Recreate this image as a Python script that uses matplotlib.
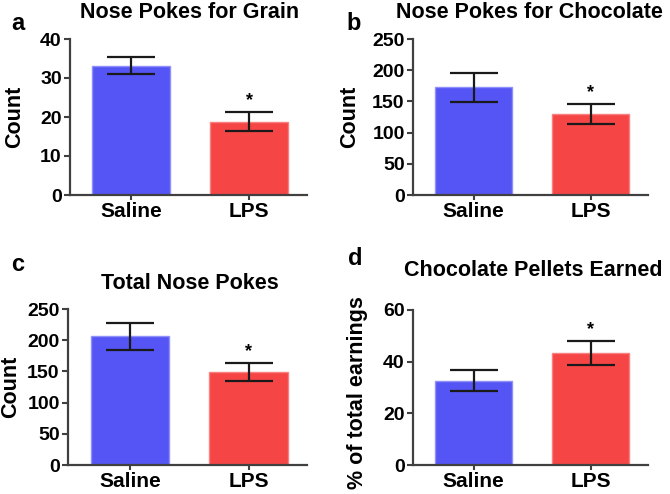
import matplotlib
matplotlib.use('Agg')
import matplotlib.pyplot as plt
import numpy as np

plt.rcParams['font.family'] = ['Liberation Sans', 'DejaVu Sans']
plt.rcParams['font.weight'] = 'bold'

W, H = 670, 494

groups = ['Saline', 'LPS']
colors = ['#5555F5', '#F54545']

grain_mean = [33.2, 18.8]
grain_sem = [2.2, 2.5]
choc_mean = [172.5, 130.5]
choc_sem = [23, 16]
total_mean = [206, 149]
total_sem = [22, 15]
pellets_mean = [32.7, 43.4]
pellets_sem = [3.9, 4.7]

panels = [
    # letter, title, ylabel, means, sems, yticks, box(px: left, top, right, bottom),
    # letter pos, title pos, ylabel right edge px
    ('a', 'Nose Pokes for Grain', 'Count', grain_mean, grain_sem, [0, 10, 20, 30, 40],
     (70, 39, 307, 195), (18, 23), (190, 12), 25),
    ('b', 'Nose Pokes for Chocolate', 'Count', choc_mean, choc_sem, [0, 50, 100, 150, 200, 250],
     (413, 39, 648, 195), (354, 23), (529, 12), 360),
    ('c', 'Total Nose Pokes', 'Count', total_mean, total_sem, [0, 50, 100, 150, 200, 250],
     (68, 309, 307, 465), (18, 264), (190, 283), 21),
    ('d', 'Chocolate Pellets Earned', '% of total earnings', pellets_mean, pellets_sem, [0, 20, 40, 60],
     (413, 310, 648, 465), (355, 258), (533, 270), 368),
]

fig = plt.figure(figsize=(W / 100, H / 100), dpi=100)

for letter, title, ylab, means, sems, yticks, box, lpos, tpos, ylx in panels:
    l, t, r, b = box
    ax = fig.add_axes([l / W, 1 - b / H, (r - l) / W, (b - t) / H])
    x = np.arange(len(groups))
    ax.bar(x, means, 0.66, color=colors, edgecolor=['#9090FA', '#F88080'], linewidth=1, zorder=2)
    ax.errorbar(x, means, yerr=sems, fmt='none', ecolor='#1a1a1a', elinewidth=1.6,
                capsize=17, capthick=1.6, zorder=3)
    ax.text(1, means[1] + sems[1] + yticks[-1] * 0.015, '*', ha='center', va='bottom',
            fontsize=13, fontweight='bold')
    ax.set_xlim(-0.52, 1.49)
    ax.set_ylim(0, yticks[-1])
    ax.set_yticks(yticks)
    ax.set_xticks(x)
    ax.set_xticklabels(groups, fontsize=15, fontweight='bold')
    ax.tick_params(axis='y', labelsize=14, length=4, width=1.5, pad=2, color='#404040')
    ax.tick_params(axis='x', length=3.5, width=1.5, pad=1.5, color='#404040')
    for lab in ax.get_yticklabels():
        lab.set_fontweight('bold')
    for s in ['top', 'right']:
        ax.spines[s].set_visible(False)
    for s in ['left', 'bottom']:
        ax.spines[s].set_color('#404040')
        ax.spines[s].set_linewidth(1.6)
    ax.set_ylabel(ylab, fontsize=15.5, fontweight='bold')
    ax.yaxis.set_label_coords((ylx - l) / (r - l), 0.47 if letter == 'd' else 0.5)

    fig.text(lpos[0] / W, 1 - lpos[1] / H, letter, fontsize=17, fontweight='bold',
             ha='center', va='center')
    fig.text(tpos[0] / W, 1 - tpos[1] / H, title, fontsize=15.5, fontweight='bold',
             ha='center', va='center')

fig.savefig('out.png', dpi=100)
